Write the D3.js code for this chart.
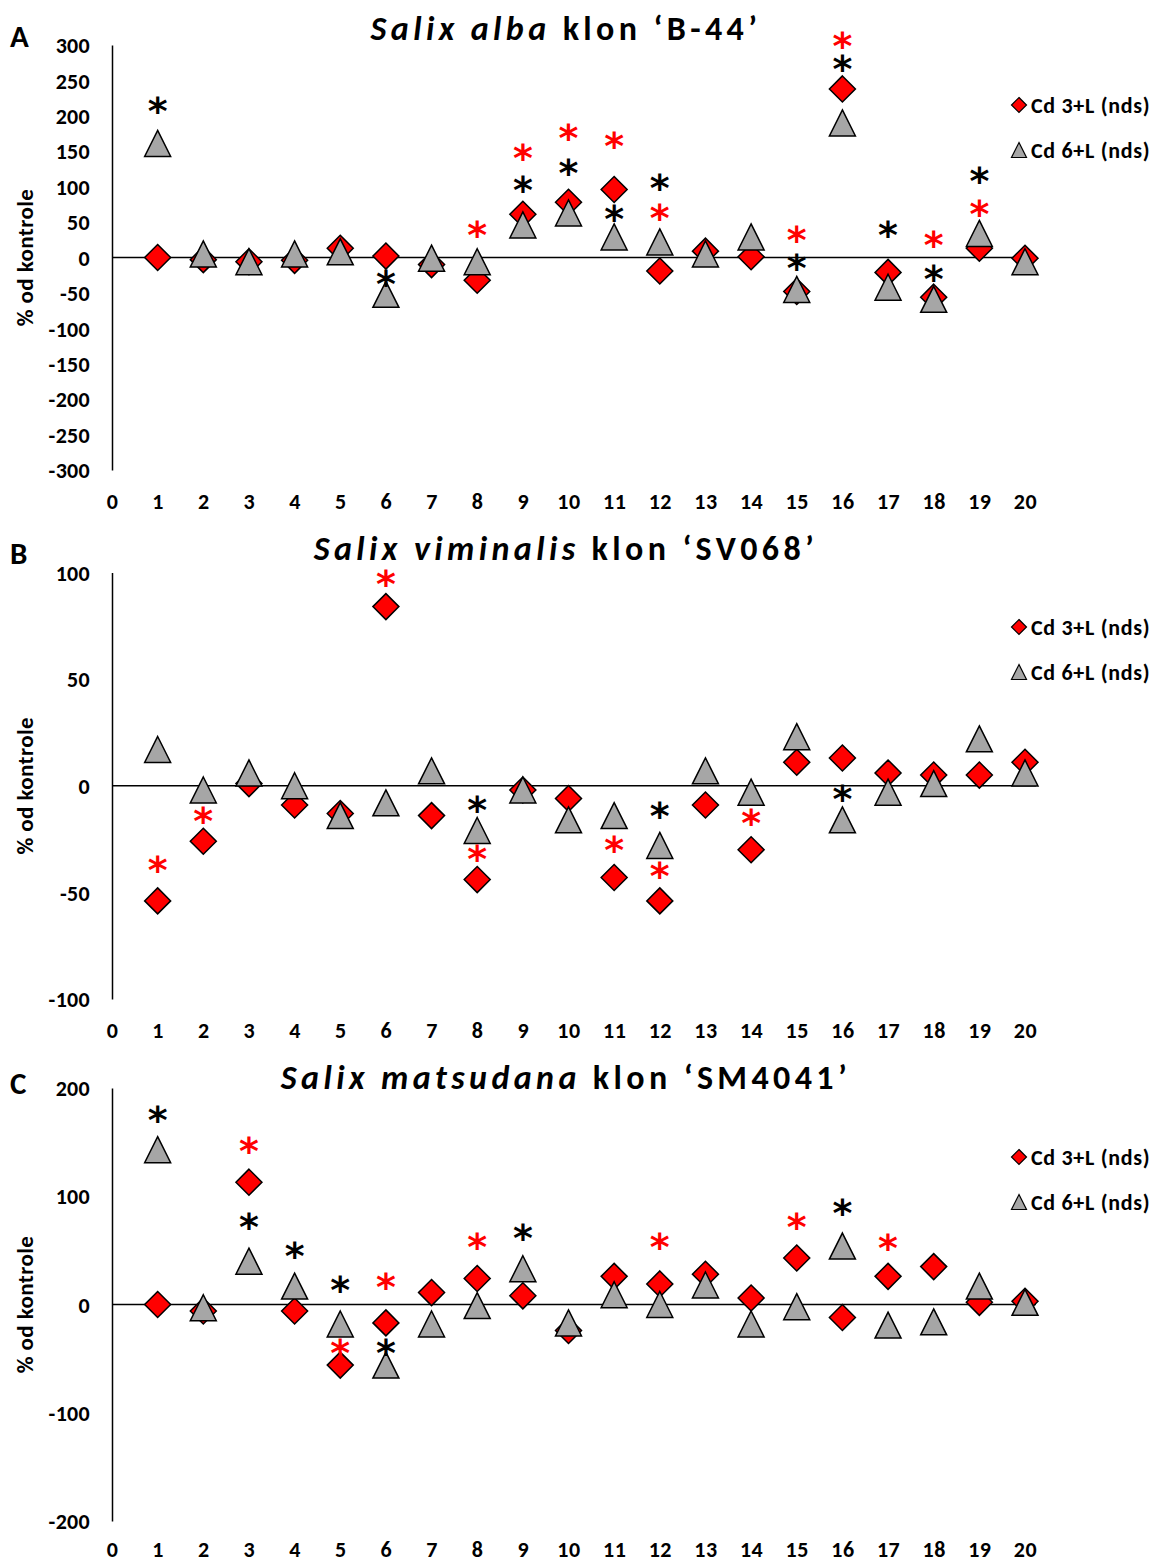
<!DOCTYPE html>
<html>
<head>
<meta charset="utf-8">
<script src="https://cdn.jsdelivr.net/npm/d3@7"></script>
<style>
  html, body { margin: 0; padding: 0; background: #fff; }
  svg { display: block; font-family: Carlito, Lato, "Open Sans", sans-serif; }
</style>
</head>
<body>
<script>
// ---------- DATA ----------
const xTicks = [0,1,2,3,4,5,6,7,8,9,10,11,12,13,14,15,16,17,18,19,20];
const xPoints = [1,2,3,4,5,6,7,8,9,10,11,12,13,14,15,16,17,18,19,20];
const seriesNames = ["Cd 3+L (nds)", "Cd 6+L (nds)"];

// Panel A – Salix alba klon 'B-44'
const A_yTicks = [300,250,200,150,100,50,0,-50,-100,-150,-200,-250,-300];
const A_cd3 = [0,-3,-6,-4,13,2,-10,-32,61,78,96,-19,9,1,-48,238,-21,-56,13,-1];
const A_cd6 = [161,5,-6,5,8,-52,-1,-6,46,63,29,22,5,29,-45,190,-42,-59,34,-6];
const A_stars = [[1,214,"k"],[6,-30,"k"],[8,39,"r"],[9,148,"r"],[9,102,"k"],[10,176,"r"],[10,127,"k"],
  [11,165,"r"],[11,61,"k"],[12,105,"k"],[12,63,"r"],[15,32,"r"],[15,-8,"k"],[16,306,"r"],[16,273,"k"],
  [17,39,"k"],[18,25,"r"],[18,-23,"k"],[19,115,"k"],[19,68,"r"]];

// Panel B – Salix viminalis klon 'SV068'
const B_yTicks = [100,50,0,-50,-100];
const B_cd3 = [-54,-26,1,-9,-13,84,-14,-44,-2,-6,-43,-54,-9,-30,11,13,6,5,5,11];
const B_cd6 = [17,-2,6,0,-14,-8,7,-21,-2,-16,-14,-28,7,-3,23,-16,-3,1,22,6];
const B_stars = [[1,-37,"r"],[2,-14,"r"],[6,97,"r"],[8,-9,"k"],[8,-32,"r"],[11,-28,"r"],
  [12,-12,"k"],[12,-40,"r"],[14,-15,"r"],[16,-4,"k"]];

// Panel C – Salix matsudana klon 'SM4041'
const C_yTicks = [200,100,0,-100,-200];
const C_cd3 = [0,-6,113,-6,-56,-17,11,24,8,-24,26,19,28,6,43,-12,26,35,2,3];
const C_cd6 = [143,-3,40,17,-18,-56,-18,-1,33,-17,9,0,18,-18,-2,54,-19,-16,17,2];
const C_stars = [[1,175,"k"],[3,146,"r"],[3,76,"k"],[4,49,"k"],[5,18,"k"],[5,-40,"r"],[6,21,"r"],
  [6,-40,"k"],[8,58,"r"],[9,66,"k"],[12,58,"r"],[15,76,"r"],[16,89,"k"],[17,57,"r"]];

// ---------- LAYOUT ----------
const W = 1155, H = 1562;
const panels = [
  {letter:"A", species:"Salix alba", clone:" klon ‘B-44’", cd3:A_cd3, cd6:A_cd6, stars:A_stars, yTicks:A_yTicks,
   top:45, bottom:470, titleY:40, letterY:47, legendY:105, xLabY:501},
  {letter:"B", species:"Salix viminalis", clone:" klon ‘SV068’", cd3:B_cd3, cd6:B_cd6, stars:B_stars, yTicks:B_yTicks,
   top:572.5, bottom:999, titleY:560, letterY:564, legendY:627, xLabY:1030},
  {letter:"C", species:"Salix matsudana", clone:" klon ‘SM4041’", cd3:C_cd3, cd6:C_cd6, stars:C_stars, yTicks:C_yTicks,
   top:1088, bottom:1521, titleY:1089, letterY:1094, legendY:1157, xLabY:1549}
];

const RED = "#FF0000", GRAY = "#A6A6A6";
const FONT = "Carlito, Lato, sans-serif";
const x = d3.scaleLinear().domain([0, 20]).range([112, 1025]);

const svg = d3.select("body").append("svg").attr("width", W).attr("height", H);

function diamond(s){ return `M0,${-s}L${s},0L0,${s}L${-s},0Z`; }
function triangle(s){ return `M0,${-s}L${s},${s}L${-s},${s}Z`; }

panels.forEach(p => {
  const y = d3.scaleLinear().domain([d3.min(p.yTicks), d3.max(p.yTicks)]).range([p.bottom, p.top]);
  const g = svg.append("g");

  // Y axis
  const yAxis = d3.axisLeft(y).tickValues(p.yTicks).tickSize(0).tickSizeOuter(0).tickPadding(22)
    .tickFormat(d => String(d));
  const ya = g.append("g").attr("transform", `translate(${x(0)},0)`).call(yAxis);
  ya.select(".domain").attr("stroke", "#000").attr("stroke-width", 1.5);
  ya.selectAll("text").attr("font-size", 22).attr("font-weight", "bold").attr("fill", "#000")
    .attr("font-family", FONT).attr("letter-spacing", "0.3px").attr("dy", "0.35em");

  // X axis labels (bottom)
  const xAxis = d3.axisBottom(x).tickValues(xTicks).tickSize(0).tickPadding(0).tickFormat(d => String(d));
  const xa = g.append("g").attr("transform", `translate(0,${p.xLabY})`).call(xAxis);
  xa.select(".domain").remove();
  xa.selectAll("text").attr("font-size", 22).attr("font-weight", "bold").attr("fill", "#000")
    .attr("font-family", FONT).attr("dy", "0.35em").attr("letter-spacing", "0.5px");

  // zero line
  g.append("line").attr("x1", x(0)).attr("x2", 1036).attr("y1", y(0)).attr("y2", y(0))
    .attr("stroke", "#000").attr("stroke-width", 1.5);

  // Y title
  g.append("text")
    .attr("transform", `translate(33,${(p.top + p.bottom) / 2}) rotate(-90)`)
    .attr("text-anchor", "middle").attr("font-size", 23).attr("font-weight", "bold")
    .attr("letter-spacing", "0.4px")
    .text("% od kontrole");

  // Panel letter
  g.append("text").attr("x", 10).attr("y", p.letterY).attr("font-size", 31).attr("font-weight", "bold")
    .text(p.letter);

  // Title
  const t = g.append("text").attr("x", 566).attr("y", p.titleY).attr("text-anchor", "middle")
    .attr("font-size", 34).attr("font-weight", "bold").attr("letter-spacing", "4.4px");
  t.append("tspan").attr("font-style", "italic").text(p.species);
  t.append("tspan").text(p.clone);

  // Series markers
  g.append("g").selectAll("path").data(p.cd3).join("path")
    .attr("d", diamond(13))
    .attr("transform", (d, i) => `translate(${x(xPoints[i])},${y(d)})`)
    .attr("fill", RED).attr("stroke", "#000").attr("stroke-width", 1.5);
  g.append("g").selectAll("path").data(p.cd6).join("path")
    .attr("d", triangle(13))
    .attr("transform", (d, i) => `translate(${x(xPoints[i])},${y(d)})`)
    .attr("fill", GRAY).attr("stroke", "#000").attr("stroke-width", 1.5);

  // Significance stars
  g.append("g").selectAll("text").data(p.stars).join("text")
    .attr("x", d => x(d[0]))
    .attr("y", d => y(d[1]) + 18)
    .attr("text-anchor", "middle")
    .attr("font-family", "DejaVu Sans, sans-serif")
    .attr("font-size", 38).attr("font-weight", "bold")
    .attr("fill", d => d[2] === "r" ? RED : "#000")
    .text("*");

  // Legend
  const lg = g.append("g");
  lg.append("path").attr("d", diamond(7.5)).attr("transform", `translate(1019,${p.legendY})`)
    .attr("fill", RED).attr("stroke", "#000").attr("stroke-width", 1.2);
  lg.append("text").attr("x", 1031).attr("y", p.legendY).attr("dy", "0.35em")
    .attr("font-size", 22).attr("font-weight", "bold").attr("letter-spacing", "0.7px").text(seriesNames[0]);
  lg.append("path").attr("d", triangle(7.5)).attr("transform", `translate(1019,${p.legendY + 45})`)
    .attr("fill", GRAY).attr("stroke", "#000").attr("stroke-width", 1.2);
  lg.append("text").attr("x", 1031).attr("y", p.legendY + 45).attr("dy", "0.35em")
    .attr("font-size", 22).attr("font-weight", "bold").attr("letter-spacing", "0.7px").text(seriesNames[1]);
});
</script>
</body>
</html>
